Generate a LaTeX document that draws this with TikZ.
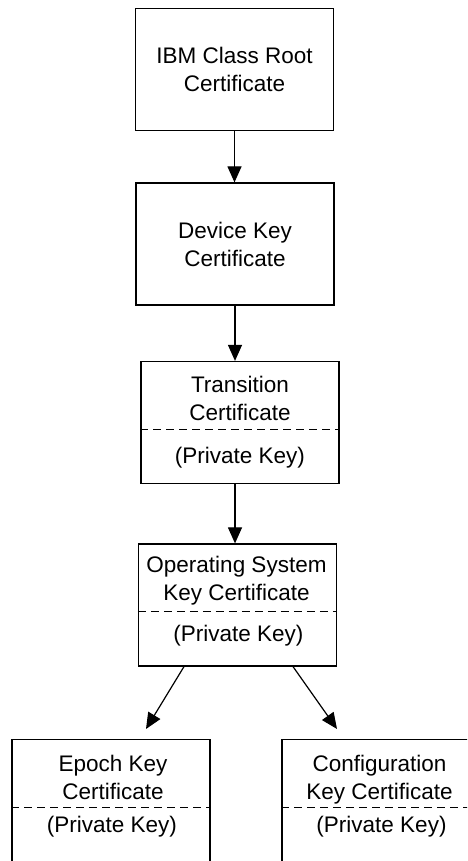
\documentclass[tikz,border=0pt]{standalone}
\usepackage{fontspec}
\setmainfont{Liberation Sans}
\usetikzlibrary{arrows.meta}

\tikzset{
  cert/.style={draw, line width=1.2pt, minimum width=198pt, minimum height=122pt, inner sep=0pt},
  certtext/.style={align=center, font=\fontsize{22.5}{28}\selectfont, inner sep=0pt},
  divider/.style={line width=1pt, dash pattern=on 8pt off 5pt},
  link/.style={line width=1.2pt, -{Triangle[length=16pt,width=14pt]}},
}

\begin{document}
\begin{tikzpicture}[x=1pt,y=1pt]
		\useasboundingbox (0,0) rectangle (467,861);
		\clip (0,0) rectangle (467,861);

		\node [cert,certtext] (root) at (234.5,791.5) {IBM Class Root\\Certificate};
		\node [cert,certtext] (device) at (235,617) {Device Key\\Certificate};

		\node [cert] (trans) at (240,438.5) {};
		\node [certtext,anchor=base] (transtitle) at (240,440) {Transition\\Certificate};
		\draw [divider] ([yshift=-69pt]trans.north west) -- ([yshift=-69pt]trans.north east);
		\node [certtext,anchor=base] (transkey) at (240,397) {(Private Key)};

		\node [cert] (os) at (237.5,256) {};
		\node [certtext,anchor=base] (ostitle) at (236.5,260) {Operating System\\Key Certificate};
		\draw [divider] ([yshift=-68pt]os.north west) -- ([yshift=-68pt]os.north east);
		\node [certtext,anchor=base] (oskey) at (238.5,219) {(Private Key)};

		% bottom row runs off the page
		\node [cert,minimum height=160pt,anchor=north] (epoch) at (111,122) {};
		\node [certtext,anchor=base] (epochtitle) at (113,61) {Epoch Key\\Certificate};
		\draw [divider] ([yshift=-69pt]epoch.north west) -- ([yshift=-69pt]epoch.north east);
		\node [certtext,anchor=base] (epochkey) at (112,28) {(Private Key)};

		\node [cert,minimum height=160pt,anchor=north] (config) at (381,122) {};
		\node [certtext,anchor=base] (configtitle) at (379.5,61) {Configuration\\Key Certificate};
		\draw [divider] ([yshift=-69pt]config.north west) -- ([yshift=-69pt]config.north east);
		\node [certtext,anchor=base] (configkey) at (381.5,28) {(Private Key)};

		\coordinate (epochtip) at (146,132);
		\coordinate (configtip) at (337,132);

		\draw [link] (root.south) -- (root.south |- device.north);
		\draw [link] (device.south) -- (device.south |- trans.north);
		\draw [link] (device.south |- trans.south) -- (device.south |- os.north);
		\draw [link] ([xshift=-53.5pt]os.south) -- (epochtip);
		\draw [link] ([xshift=55.5pt]os.south) -- (configtip);
\end{tikzpicture}
\end{document}
